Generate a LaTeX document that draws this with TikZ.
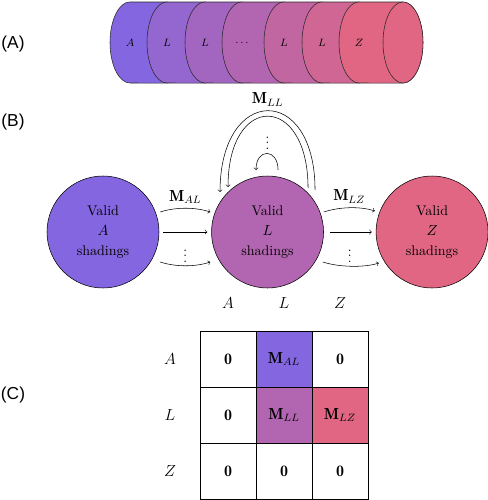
\documentclass[tikz,border=0pt]{standalone}
\usepackage{fontspec}
\newfontfamily\panelfont{Liberation Sans}
\usetikzlibrary{arrows, positioning, calc}
\definecolor{shadeA}{HTML}{8466E0}
\definecolor{shadeZ}{HTML}{E06683}
\colorlet{shadeL}{shadeZ!50!shadeA}

\tikzset{
  disk/.style={draw=black!85, fill=#1},
  state/.style={circle, draw, fill=#1, minimum size=84pt, inner sep=0pt,
    align=center, font=\fontsize{10.5}{15}\selectfont},
  cell/.style={draw, minimum size=42pt, inner sep=0pt, font=\large},
  panel/.style={font=\panelfont\fontsize{13}{15}\selectfont},
  vdotsnode/.style={inner sep=0pt},
}

\begin{document}
\begin{tikzpicture}[x=0.75pt, y=-0.75pt]
      \useasboundingbox (0,0) rectangle (488,500);

      % Panel letters
      \node[panel] (pA) at (13,44) {(A)};
      \node[panel] (pB) at (13,122) {(B)};
      \node[panel] (pC) at (13,395) {(C)};

      % Draw the cylinder, one disk after the other
      \draw[disk=shadeA] (130,2) -- (167,2) arc[start angle=90, end angle=-90, x radius=15pt, y radius=30.4pt] -- (130,83) arc[start angle=270, end angle=90, x radius=15pt, y radius=30.4pt] -- cycle;
      \draw[disk=shadeZ!17!shadeA] (167,2) -- (205,2) arc[start angle=90, end angle=-90, x radius=15pt, y radius=30.4pt] -- (167,83) arc[start angle=270, end angle=90, x radius=15pt, y radius=30.4pt] -- cycle;
      \draw[disk=shadeZ!33!shadeA] (205,2) -- (242,2) arc[start angle=90, end angle=-90, x radius=15pt, y radius=30.4pt] -- (205,83) arc[start angle=270, end angle=90, x radius=15pt, y radius=30.4pt] -- cycle;
      \draw[disk=shadeZ!50!shadeA] (242,2) -- (284,2) arc[start angle=90, end angle=-90, x radius=15pt, y radius=30.4pt] -- (242,83) arc[start angle=270, end angle=90, x radius=15pt, y radius=30.4pt] -- cycle;
      \draw[disk=shadeZ!67!shadeA] (284,2) -- (322,2) arc[start angle=90, end angle=-90, x radius=15pt, y radius=30.4pt] -- (284,83) arc[start angle=270, end angle=90, x radius=15pt, y radius=30.4pt] -- cycle;
      \draw[disk=shadeZ!83!shadeA] (322,2) -- (359,2) arc[start angle=90, end angle=-90, x radius=15pt, y radius=30.4pt] -- (322,83) arc[start angle=270, end angle=90, x radius=15pt, y radius=30.4pt] -- cycle;
      \draw[disk=shadeZ] (359,2) -- (403,2) arc[start angle=90, end angle=-90, x radius=15pt, y radius=30.4pt] -- (359,83) arc[start angle=270, end angle=90, x radius=15pt, y radius=30.4pt] -- cycle;
      \draw[disk=shadeZ] (403,42.5) ellipse[x radius=15pt, y radius=30.4pt];

      % Labels on the disks
      \node[font=\footnotesize] (dA) at (130,43) {$A$};
      \node[font=\footnotesize] (dL1) at (167,43) {$L$};
      \node[font=\footnotesize] (dL2) at (205,43) {$L$};
      \node[font=\footnotesize] (ddots) at (242,43) {$\dots$};
      \node[font=\footnotesize] (dL3) at (284,43) {$L$};
      \node[font=\footnotesize] (dL4) at (322,43) {$L$};
      \node[font=\footnotesize] (dZ) at (359,43) {$Z$};

      % The three states
      \node[state=shadeA] (A) at (103,232) {Valid\\ $A$\\ shadings};
      \node[state=shadeL, right=39pt of A] (L) {Valid\\ $L$\\ shadings};
      \node[state=shadeZ, right=39pt of L] (Z) {Valid\\ $Z$\\ shadings};

      % Transitions from A to L
      \draw[->] ($(A.east)+(1,-20)$) .. controls +(15,-5) and +(-15,-5) .. node[above, font=\large] {$\mathbf{M}_{AL}$} ($(L.west)+(-1,-20)$);
      \draw[->] ($(A.east)+(4,0)$) -- ($(L.west)+(-4,0)$);
      \draw[->] ($(A.east)+(1,30)$) .. controls +(15,5) and +(-15,5) .. ($(L.west)+(-1,30)$);
      \node[vdotsnode] (vAL) at ($(A.east)!0.5!(L.west)+(0,20)$) {$\vdots$};

      % Transitions from L to Z
      \draw[->] ($(L.east)+(0,-20)$) .. controls +(15,-5) and +(-15,-5) .. node[above, font=\large] {$\mathbf{M}_{LZ}$} ($(Z.west)+(-1,-21)$);
      \draw[->] ($(L.east)+(6,0)$) -- ($(Z.west)+(-4,0)$);
      \draw[->] ($(L.east)+(-1,30)$) .. controls +(15,5) and +(-15,5) .. ($(Z.west)+(3,31)$);
      \node[vdotsnode] (vLZ) at ($(L.east)!0.5!(Z.west)+(0,20)$) {$\vdots$};

      % Loops from L back to L
      \draw[->] ($(L)+(47.5,-42)$) .. controls +(0,-107) and +(0,-107) .. node[above, font=\large] {$\mathbf{M}_{LL}$} ($(L)+(-47.5,-40)$);
      \draw[->] ($(L)+(40.5,-44)$) .. controls +(0,-95) and +(0,-95) .. ($(L)+(-39.5,-45)$);
      \draw[->] ($(L)+(10.5,-62)$) .. controls +(0,-22) and +(0,-22) .. ($(L)+(-11.5,-62)$);
      \node[vdotsnode] (vLL) at ($(L)+(0,-93)$) {$\vdots$};

      % Column and row headings of the matrix
      \node[font=\large] (hA) at (228,303) {$A$};
      \node[font=\large] (hL) at (284,303) {$L$};
      \node[font=\large] (hZ) at (340,303) {$Z$};
      \node[font=\large] (rA) at (170,359) {$A$};
      \node[font=\large] (rL) at (170,415) {$L$};
      \node[font=\large] (rZ) at (170,471) {$Z$};

      % Matrix cells
      \node[cell] (AA) at (228,359) {$\mathbf{0}$};
      \node[cell, fill=shadeA] (AL) at (284,359) {$\mathbf{M}_{AL}$};
      \node[cell] (AZ) at (340,359) {$\mathbf{0}$};
      \node[cell] (LA) at (228,415) {$\mathbf{0}$};
      \node[cell, fill=shadeL] (LL) at (284,415) {$\mathbf{M}_{LL}$};
      \node[cell, fill=shadeZ] (LZ) at (340,415) {$\mathbf{M}_{LZ}$};
      \node[cell] (ZA) at (228,471) {$\mathbf{0}$};
      \node[cell] (ZL) at (284,471) {$\mathbf{0}$};
      \node[cell] (ZZ) at (340,471) {$\mathbf{0}$};
    \end{tikzpicture}
\end{document}
